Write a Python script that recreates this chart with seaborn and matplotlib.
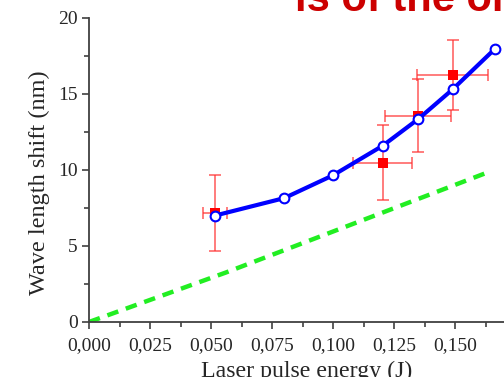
import matplotlib
matplotlib.use("Agg")
import matplotlib.pyplot as plt
import seaborn as sns
import pandas as pd
from matplotlib.ticker import MultipleLocator, FuncFormatter

# calculated curve (blue, open circles)
calc_energy = [0.0516, 0.080, 0.100, 0.1204, 0.135, 0.149, 0.1663]
calc_shift = [7.0, 8.15, 9.65, 11.6, 13.36, 15.3, 17.96]

# measured points (red squares with error bars)
meas_energy = [0.0516, 0.1203, 0.135, 0.149]
meas_shift = [7.2, 10.48, 13.57, 16.23]
meas_xerr = [0.005, 0.012, 0.0135, 0.0147]
meas_yerr = [2.5, 2.45, 2.4, 2.3]

# linear reference (green dashed)
lin_energy = [0.0, 0.056, 0.1635]
lin_shift = [0.0, 3.25, 9.85]

sns.set_style("ticks")
plt.rcParams["font.family"] = ["Liberation Serif", "DejaVu Serif"]

fig = plt.figure(figsize=(5.04, 3.77), dpi=100)
# axes runs to the right edge of the picture (cropped slide)
ax = fig.add_axes([89 / 504, 55 / 377, 417 / 504, 304 / 377])

sns.lineplot(x=lin_energy, y=lin_shift, ax=ax, color="#22EE22", linewidth=3.2,
             linestyle=(0, (2.6, 1.8)), zorder=2)

ax.errorbar(meas_energy, meas_shift, xerr=meas_xerr, yerr=meas_yerr, fmt="none",
            ecolor="#FF3030", elinewidth=1.1, capsize=4, capthick=1.1, alpha=0.8, zorder=3)
sns.scatterplot(x=meas_energy, y=meas_shift, ax=ax, marker="s", color="#FF0000",
                s=55, edgecolor="#FF0000", linewidth=0, zorder=4)

df = pd.DataFrame({"energy": calc_energy, "shift": calc_shift})
sns.lineplot(data=df, x="energy", y="shift", ax=ax, color="#0000FF", linewidth=3,
             marker="o", markersize=7, markerfacecolor="white",
             markeredgecolor="#0000FF", markeredgewidth=1.5, zorder=5)

ax.set_xlim(0, 0.1709)
ax.set_ylim(0, 20)
ax.xaxis.set_major_locator(MultipleLocator(0.025))
ax.xaxis.set_minor_locator(MultipleLocator(0.0125))
ax.yaxis.set_major_locator(MultipleLocator(5))
ax.yaxis.set_minor_locator(MultipleLocator(2.5))
ax.xaxis.set_major_formatter(FuncFormatter(lambda v, p: f"{v:.3f}".replace(".", ",")))
ax.yaxis.set_major_formatter(FuncFormatter(lambda v, p: f"{v:.0f}"))

for side in ("top", "right"):
    ax.spines[side].set_visible(False)
for side in ("left", "bottom"):
    ax.spines[side].set_color("#404040")
    ax.spines[side].set_linewidth(1.3)
ax.tick_params(which="major", direction="out", length=5, width=1.2, color="#404040",
               labelsize=14, pad=3)
ax.tick_params(axis="x", which="major", pad=6)
ax.tick_params(which="minor", direction="out", length=3.5, width=1.2, color="#404040")
ax.set_xlabel("Laser pulse energy (J)", fontsize=17.2, va="top")
ax.set_ylabel("Wave length shift (nm)", fontsize=17.5, va="center")
ax.xaxis.set_label_coords((307 - 89) / 417, -(361 - 322) / 304)
ax.yaxis.set_label_coords(-(89 - 39) / 417, (322 - 182.5) / 304)

fig.text(295 / 504, 1 - 11 / 377, "is of the or", color="#CC0000", fontsize=30,
         fontweight="bold", family="Liberation Sans", ha="left", va="baseline")

fig.savefig("out.png", dpi=100)
